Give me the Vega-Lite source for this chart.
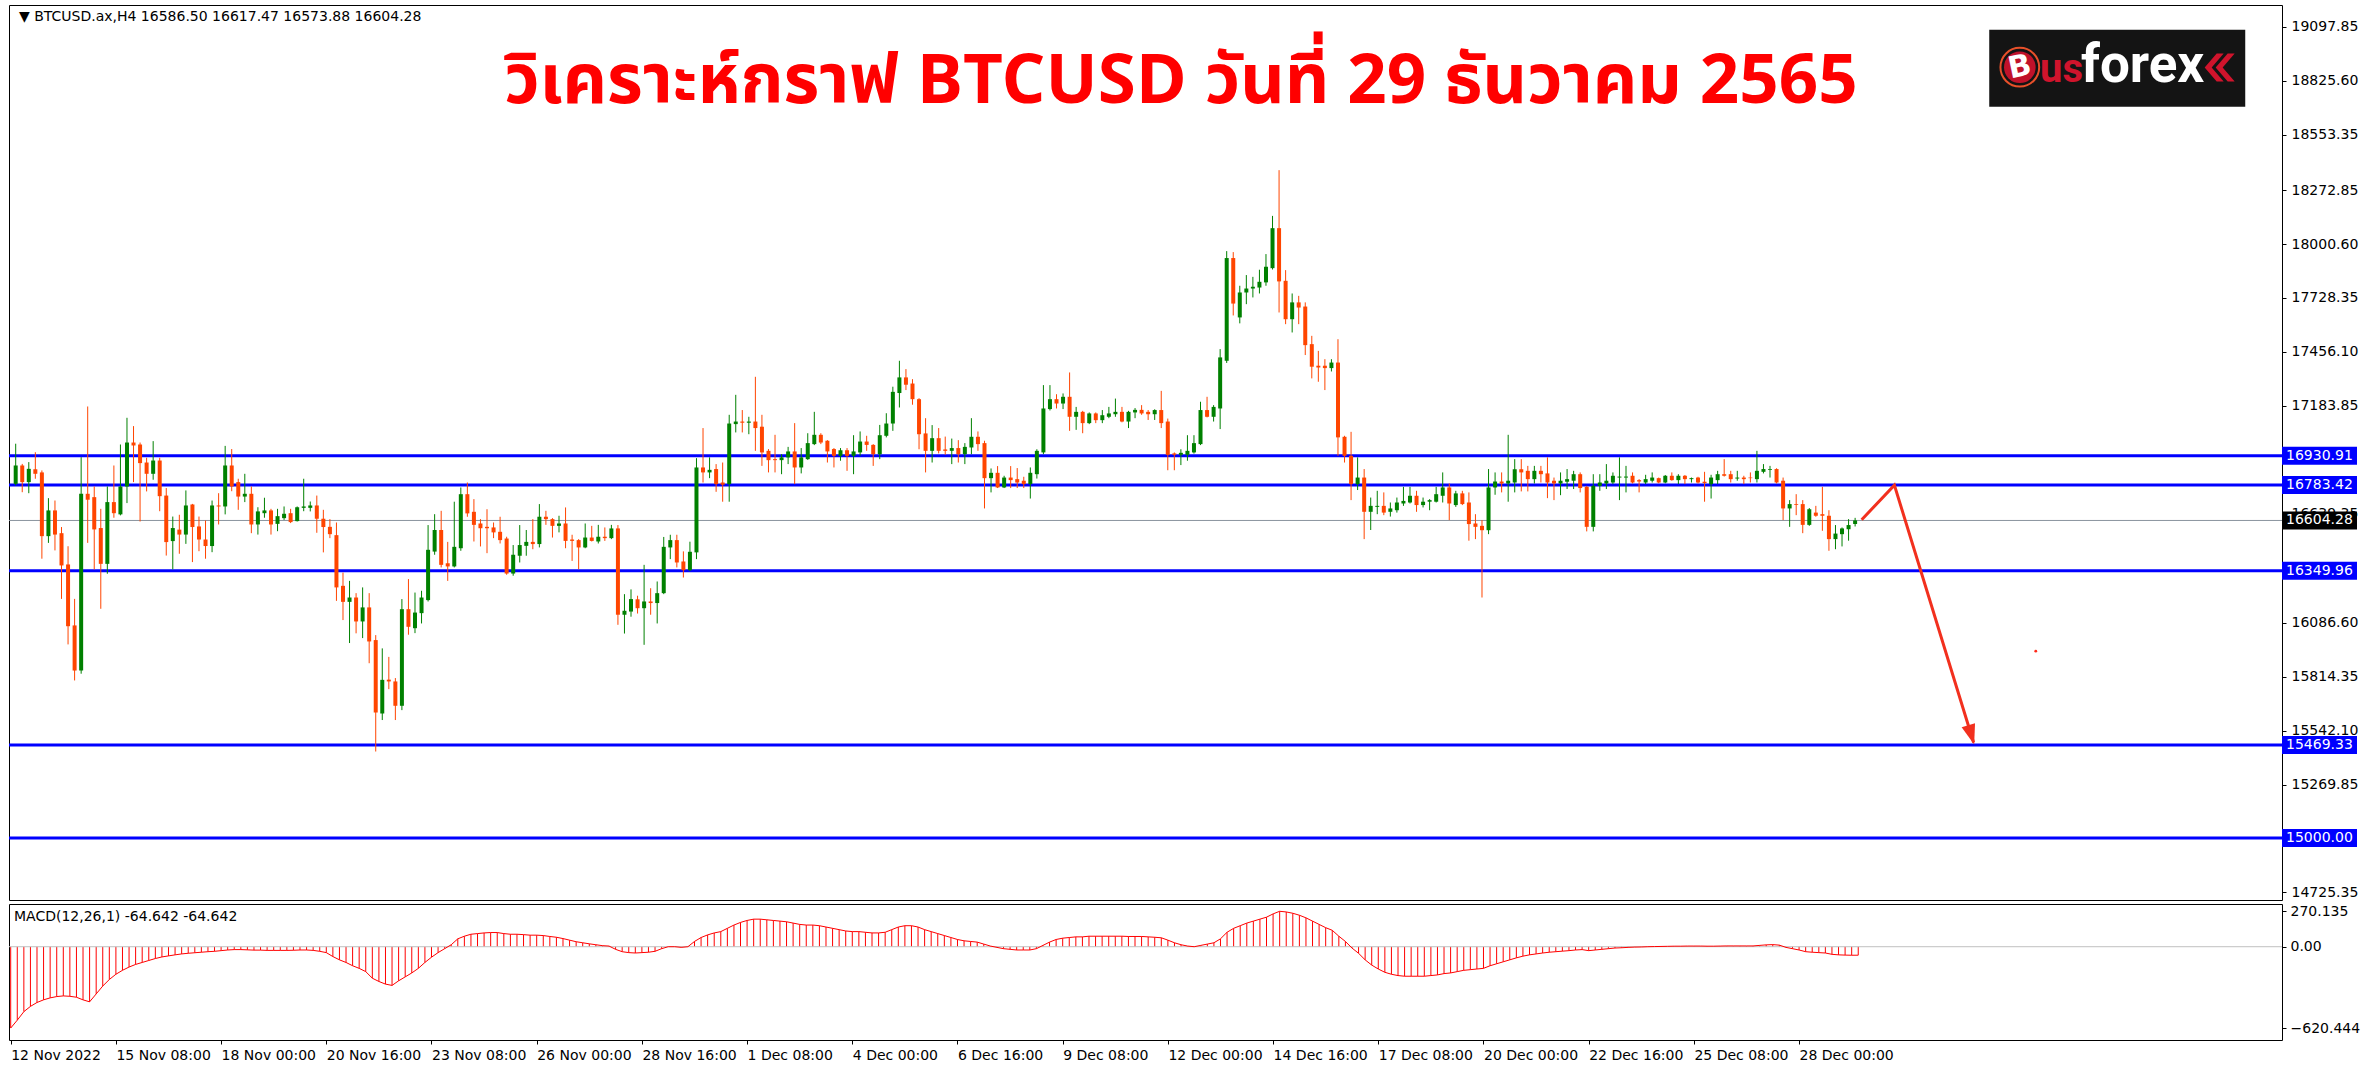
{
  "$schema": "https://vega.github.io/schema/vega-lite/v6.json",
  "background": "white",
  "padding": {"left": 7, "top": 4, "right": 5, "bottom": 5},
  "spacing": 4,
  "bounds": "flush",
  "config": {
    "view": {"stroke": "#000000", "strokeWidth": 1},
    "axis": {"labelFont": "DejaVu Sans", "labelFontSize": 14, "labelColor": "#000000", "tickColor": "#000000", "tickSize": 4, "domain": false, "grid": false},
    "text": {"font": "DejaVu Sans"}
  },
  "datasets": {
    "candles": [
{"i":0,"o":16789,"h":16992,"l":16781,"c":16882,"m":-620},
{"i":1,"o":16882,"h":16890,"l":16747,"c":16798,"m":-560},
{"i":2,"o":16798,"h":16899,"l":16742,"c":16865,"m":-495},
{"i":3,"o":16863,"h":16949,"l":16815,"c":16840,"m":-455},
{"i":4,"o":16847,"h":16857,"l":16411,"c":16525,"m":-425},
{"i":5,"o":16525,"h":16717,"l":16491,"c":16655,"m":-405},
{"i":6,"o":16655,"h":16705,"l":16453,"c":16533,"m":-390},
{"i":7,"o":16540,"h":16571,"l":16208,"c":16377,"m":-380},
{"i":8,"o":16382,"h":16474,"l":15978,"c":16070,"m":-375},
{"i":9,"o":16074,"h":16208,"l":15796,"c":15846,"m":-378},
{"i":10,"o":15846,"h":16924,"l":15830,"c":16739,"m":-385},
{"i":11,"o":16739,"h":17180,"l":16491,"c":16709,"m":-405},
{"i":12,"o":16722,"h":16776,"l":16357,"c":16559,"m":-420},
{"i":13,"o":16566,"h":16663,"l":16158,"c":16385,"m":-360},
{"i":14,"o":16385,"h":16776,"l":16335,"c":16697,"m":-300},
{"i":15,"o":16697,"h":16882,"l":16618,"c":16641,"m":-250},
{"i":16,"o":16635,"h":16988,"l":16630,"c":16776,"m":-210},
{"i":17,"o":16776,"h":17123,"l":16692,"c":16998,"m":-180},
{"i":18,"o":16998,"h":17081,"l":16798,"c":16983,"m":-155},
{"i":19,"o":16988,"h":16998,"l":16599,"c":16894,"m":-135},
{"i":20,"o":16897,"h":16921,"l":16751,"c":16840,"m":-120},
{"i":21,"o":16840,"h":17005,"l":16810,"c":16907,"m":-105},
{"i":22,"o":16907,"h":16921,"l":16651,"c":16727,"m":-90},
{"i":23,"o":16730,"h":16768,"l":16427,"c":16495,"m":-78},
{"i":24,"o":16500,"h":16624,"l":16357,"c":16566,"m":-70},
{"i":25,"o":16558,"h":16633,"l":16436,"c":16533,"m":-62},
{"i":26,"o":16533,"h":16756,"l":16486,"c":16680,"m":-55},
{"i":27,"o":16685,"h":16688,"l":16394,"c":16571,"m":-50},
{"i":28,"o":16574,"h":16624,"l":16449,"c":16508,"m":-46},
{"i":29,"o":16508,"h":16604,"l":16411,"c":16475,"m":-42},
{"i":30,"o":16475,"h":16705,"l":16444,"c":16680,"m":-38},
{"i":31,"o":16680,"h":16742,"l":16584,"c":16675,"m":-35},
{"i":32,"o":16675,"h":16981,"l":16635,"c":16882,"m":-30},
{"i":33,"o":16882,"h":16965,"l":16752,"c":16776,"m":-25},
{"i":34,"o":16798,"h":16815,"l":16658,"c":16725,"m":-22},
{"i":35,"o":16725,"h":16840,"l":16697,"c":16739,"m":-22},
{"i":36,"o":16739,"h":16776,"l":16540,"c":16584,"m":-24},
{"i":37,"o":16584,"h":16671,"l":16533,"c":16650,"m":-26},
{"i":38,"o":16641,"h":16719,"l":16618,"c":16655,"m":-26},
{"i":39,"o":16655,"h":16663,"l":16533,"c":16584,"m":-28},
{"i":40,"o":16587,"h":16663,"l":16550,"c":16626,"m":-28},
{"i":41,"o":16616,"h":16675,"l":16607,"c":16638,"m":-28},
{"i":42,"o":16641,"h":16663,"l":16591,"c":16596,"m":-28},
{"i":43,"o":16601,"h":16675,"l":16599,"c":16671,"m":-27},
{"i":44,"o":16668,"h":16815,"l":16651,"c":16675,"m":-25},
{"i":45,"o":16668,"h":16700,"l":16650,"c":16680,"m":-25},
{"i":46,"o":16680,"h":16730,"l":16542,"c":16613,"m":-28},
{"i":47,"o":16613,"h":16658,"l":16443,"c":16571,"m":-35},
{"i":48,"o":16572,"h":16611,"l":16515,"c":16535,"m":-45},
{"i":49,"o":16530,"h":16594,"l":16198,"c":16266,"m":-75},
{"i":50,"o":16274,"h":16341,"l":16101,"c":16193,"m":-100},
{"i":51,"o":16193,"h":16299,"l":15985,"c":16215,"m":-120},
{"i":52,"o":16215,"h":16237,"l":16034,"c":16094,"m":-145},
{"i":53,"o":16094,"h":16266,"l":16010,"c":16165,"m":-165},
{"i":54,"o":16165,"h":16237,"l":15883,"c":15993,"m":-190},
{"i":55,"o":16000,"h":16025,"l":15437,"c":15634,"m":-240},
{"i":56,"o":15629,"h":15958,"l":15596,"c":15799,"m":-265},
{"i":57,"o":15800,"h":15915,"l":15752,"c":15791,"m":-285},
{"i":58,"o":15791,"h":15808,"l":15596,"c":15668,"m":-295},
{"i":59,"o":15668,"h":16207,"l":15646,"c":16156,"m":-260},
{"i":60,"o":16156,"h":16308,"l":16027,"c":16067,"m":-230},
{"i":61,"o":16060,"h":16240,"l":16035,"c":16139,"m":-200},
{"i":62,"o":16136,"h":16249,"l":16084,"c":16215,"m":-165},
{"i":63,"o":16202,"h":16581,"l":16195,"c":16456,"m":-120},
{"i":64,"o":16447,"h":16636,"l":16431,"c":16556,"m":-80},
{"i":65,"o":16556,"h":16653,"l":16367,"c":16380,"m":-45},
{"i":66,"o":16388,"h":16496,"l":16299,"c":16372,"m":-15},
{"i":67,"o":16372,"h":16699,"l":16367,"c":16471,"m":15},
{"i":68,"o":16464,"h":16771,"l":16451,"c":16737,"m":60},
{"i":69,"o":16737,"h":16796,"l":16623,"c":16640,"m":80},
{"i":70,"o":16648,"h":16712,"l":16498,"c":16582,"m":95},
{"i":71,"o":16589,"h":16611,"l":16473,"c":16565,"m":100},
{"i":72,"o":16572,"h":16661,"l":16439,"c":16565,"m":105},
{"i":73,"o":16569,"h":16594,"l":16515,"c":16544,"m":108},
{"i":74,"o":16547,"h":16623,"l":16488,"c":16505,"m":108},
{"i":75,"o":16513,"h":16522,"l":16330,"c":16336,"m":100},
{"i":76,"o":16336,"h":16480,"l":16325,"c":16431,"m":95},
{"i":77,"o":16426,"h":16581,"l":16392,"c":16480,"m":95},
{"i":78,"o":16476,"h":16556,"l":16426,"c":16496,"m":92},
{"i":79,"o":16496,"h":16611,"l":16459,"c":16485,"m":88},
{"i":80,"o":16485,"h":16687,"l":16468,"c":16623,"m":88},
{"i":81,"o":16623,"h":16653,"l":16582,"c":16611,"m":85},
{"i":82,"o":16611,"h":16616,"l":16518,"c":16577,"m":78},
{"i":83,"o":16577,"h":16628,"l":16544,"c":16589,"m":72},
{"i":84,"o":16589,"h":16670,"l":16464,"c":16501,"m":62},
{"i":85,"o":16508,"h":16532,"l":16400,"c":16501,"m":50},
{"i":86,"o":16505,"h":16510,"l":16358,"c":16468,"m":38},
{"i":87,"o":16468,"h":16589,"l":16464,"c":16518,"m":30},
{"i":88,"o":16518,"h":16577,"l":16498,"c":16501,"m":22},
{"i":89,"o":16498,"h":16582,"l":16488,"c":16522,"m":15},
{"i":90,"o":16522,"h":16569,"l":16501,"c":16515,"m":8},
{"i":91,"o":16515,"h":16582,"l":16510,"c":16564,"m":5},
{"i":92,"o":16564,"h":16581,"l":16077,"c":16128,"m":-20},
{"i":93,"o":16128,"h":16232,"l":16033,"c":16148,"m":-38},
{"i":94,"o":16144,"h":16256,"l":16118,"c":16207,"m":-45},
{"i":95,"o":16206,"h":16224,"l":16134,"c":16161,"m":-48},
{"i":96,"o":16161,"h":16380,"l":15976,"c":16195,"m":-45},
{"i":97,"o":16195,"h":16262,"l":16128,"c":16187,"m":-42},
{"i":98,"o":16187,"h":16296,"l":16084,"c":16237,"m":-35},
{"i":99,"o":16237,"h":16521,"l":16232,"c":16471,"m":-15},
{"i":100,"o":16468,"h":16532,"l":16409,"c":16505,"m":0},
{"i":101,"o":16505,"h":16532,"l":16367,"c":16392,"m":0},
{"i":102,"o":16397,"h":16448,"l":16316,"c":16353,"m":-5},
{"i":103,"o":16353,"h":16497,"l":16348,"c":16446,"m":0},
{"i":104,"o":16443,"h":16919,"l":16409,"c":16872,"m":40},
{"i":105,"o":16872,"h":17071,"l":16796,"c":16847,"m":70},
{"i":106,"o":16847,"h":16923,"l":16818,"c":16860,"m":90},
{"i":107,"o":16864,"h":16889,"l":16749,"c":16788,"m":105},
{"i":108,"o":16796,"h":16897,"l":16699,"c":16785,"m":115},
{"i":109,"o":16788,"h":17138,"l":16699,"c":17094,"m":140},
{"i":110,"o":17091,"h":17239,"l":17049,"c":17104,"m":165},
{"i":111,"o":17104,"h":17162,"l":17049,"c":17098,"m":185},
{"i":112,"o":17098,"h":17128,"l":17040,"c":17104,"m":200},
{"i":113,"o":17104,"h":17330,"l":16956,"c":17071,"m":210},
{"i":114,"o":17078,"h":17138,"l":16880,"c":16948,"m":210},
{"i":115,"o":16956,"h":16965,"l":16847,"c":16909,"m":205},
{"i":116,"o":16914,"h":17037,"l":16847,"c":16909,"m":200},
{"i":117,"o":16909,"h":16939,"l":16838,"c":16923,"m":195},
{"i":118,"o":16923,"h":16976,"l":16889,"c":16953,"m":190},
{"i":119,"o":16953,"h":17096,"l":16788,"c":16872,"m":180},
{"i":120,"o":16872,"h":16970,"l":16842,"c":16923,"m":170},
{"i":121,"o":16914,"h":17045,"l":16910,"c":16995,"m":165},
{"i":122,"o":16990,"h":17153,"l":16985,"c":17037,"m":165},
{"i":123,"o":17037,"h":17045,"l":16990,"c":16998,"m":160},
{"i":124,"o":17007,"h":17010,"l":16897,"c":16953,"m":150},
{"i":125,"o":16965,"h":16970,"l":16872,"c":16931,"m":140},
{"i":126,"o":16931,"h":16970,"l":16906,"c":16959,"m":130},
{"i":127,"o":16959,"h":16970,"l":16855,"c":16931,"m":120},
{"i":128,"o":16931,"h":17035,"l":16838,"c":16953,"m":115},
{"i":129,"o":16948,"h":17054,"l":16931,"c":17003,"m":115},
{"i":130,"o":17003,"h":17032,"l":16956,"c":16986,"m":110},
{"i":131,"o":16986,"h":16990,"l":16880,"c":16939,"m":105},
{"i":132,"o":16939,"h":17087,"l":16914,"c":17035,"m":105},
{"i":133,"o":17032,"h":17146,"l":17024,"c":17094,"m":110},
{"i":134,"o":17094,"h":17280,"l":17057,"c":17254,"m":130},
{"i":135,"o":17248,"h":17411,"l":17175,"c":17327,"m":150},
{"i":136,"o":17327,"h":17369,"l":17263,"c":17290,"m":160},
{"i":137,"o":17296,"h":17318,"l":17189,"c":17217,"m":160},
{"i":138,"o":17217,"h":17222,"l":16964,"c":17040,"m":150},
{"i":139,"o":17044,"h":17121,"l":16847,"c":16956,"m":130},
{"i":140,"o":16956,"h":17086,"l":16897,"c":17020,"m":115},
{"i":141,"o":17020,"h":17071,"l":16943,"c":16956,"m":100},
{"i":142,"o":16963,"h":17028,"l":16936,"c":16956,"m":85},
{"i":143,"o":16956,"h":17018,"l":16889,"c":16970,"m":70},
{"i":144,"o":16970,"h":17010,"l":16897,"c":16939,"m":55},
{"i":145,"o":16939,"h":16995,"l":16889,"c":16976,"m":45},
{"i":146,"o":16973,"h":17121,"l":16939,"c":17027,"m":40},
{"i":147,"o":17027,"h":17054,"l":16956,"c":16990,"m":35},
{"i":148,"o":16995,"h":17007,"l":16665,"c":16818,"m":20},
{"i":149,"o":16818,"h":16867,"l":16746,"c":16845,"m":5},
{"i":150,"o":16845,"h":16879,"l":16768,"c":16771,"m":-5},
{"i":151,"o":16771,"h":16830,"l":16768,"c":16821,"m":-15},
{"i":152,"o":16821,"h":16879,"l":16768,"c":16808,"m":-20},
{"i":153,"o":16813,"h":16869,"l":16768,"c":16796,"m":-25},
{"i":154,"o":16805,"h":16825,"l":16768,"c":16788,"m":-25},
{"i":155,"o":16788,"h":16872,"l":16715,"c":16845,"m":-25},
{"i":156,"o":16838,"h":16964,"l":16816,"c":16956,"m":-15},
{"i":157,"o":16948,"h":17288,"l":16939,"c":17170,"m":10},
{"i":158,"o":17167,"h":17288,"l":17160,"c":17217,"m":35},
{"i":159,"o":17217,"h":17242,"l":17170,"c":17195,"m":55},
{"i":160,"o":17195,"h":17246,"l":17167,"c":17229,"m":65},
{"i":161,"o":17229,"h":17352,"l":17057,"c":17128,"m":70},
{"i":162,"o":17128,"h":17178,"l":17062,"c":17153,"m":75},
{"i":163,"o":17153,"h":17158,"l":17045,"c":17096,"m":75},
{"i":164,"o":17096,"h":17150,"l":17091,"c":17145,"m":80},
{"i":165,"o":17145,"h":17150,"l":17096,"c":17111,"m":80},
{"i":166,"o":17111,"h":17162,"l":17096,"c":17136,"m":80},
{"i":167,"o":17128,"h":17178,"l":17121,"c":17145,"m":80},
{"i":168,"o":17141,"h":17220,"l":17128,"c":17153,"m":80},
{"i":169,"o":17153,"h":17178,"l":17100,"c":17104,"m":80},
{"i":170,"o":17104,"h":17158,"l":17071,"c":17153,"m":78},
{"i":171,"o":17150,"h":17172,"l":17121,"c":17163,"m":78},
{"i":172,"o":17163,"h":17187,"l":17138,"c":17145,"m":78},
{"i":173,"o":17153,"h":17162,"l":17112,"c":17141,"m":75},
{"i":174,"o":17141,"h":17166,"l":17112,"c":17162,"m":72},
{"i":175,"o":17162,"h":17259,"l":17071,"c":17096,"m":68},
{"i":176,"o":17104,"h":17119,"l":16858,"c":16936,"m":50},
{"i":177,"o":16943,"h":16948,"l":16858,"c":16936,"m":30},
{"i":178,"o":16936,"h":16964,"l":16884,"c":16946,"m":15},
{"i":179,"o":16936,"h":17035,"l":16906,"c":16956,"m":5},
{"i":180,"o":16948,"h":17035,"l":16942,"c":16995,"m":0},
{"i":181,"o":16990,"h":17204,"l":16985,"c":17162,"m":10},
{"i":182,"o":17162,"h":17229,"l":17125,"c":17128,"m":20},
{"i":183,"o":17128,"h":17187,"l":17104,"c":17178,"m":30},
{"i":184,"o":17170,"h":17470,"l":17066,"c":17428,"m":60},
{"i":185,"o":17411,"h":17965,"l":17400,"c":17930,"m":110},
{"i":186,"o":17930,"h":17960,"l":17640,"c":17700,"m":140},
{"i":187,"o":17630,"h":17790,"l":17600,"c":17756,"m":160},
{"i":188,"o":17756,"h":17844,"l":17697,"c":17776,"m":180},
{"i":189,"o":17776,"h":17835,"l":17731,"c":17785,"m":195},
{"i":190,"o":17781,"h":17871,"l":17751,"c":17810,"m":210},
{"i":191,"o":17807,"h":17950,"l":17790,"c":17886,"m":225},
{"i":192,"o":17879,"h":18143,"l":17872,"c":18081,"m":250},
{"i":193,"o":18081,"h":18374,"l":17655,"c":17812,"m":270},
{"i":194,"o":17815,"h":17869,"l":17596,"c":17621,"m":265},
{"i":195,"o":17621,"h":17751,"l":17554,"c":17706,"m":255},
{"i":196,"o":17706,"h":17739,"l":17596,"c":17680,"m":240},
{"i":197,"o":17685,"h":17706,"l":17440,"c":17490,"m":220},
{"i":198,"o":17495,"h":17537,"l":17322,"c":17381,"m":195},
{"i":199,"o":17386,"h":17461,"l":17305,"c":17377,"m":170},
{"i":200,"o":17386,"h":17419,"l":17263,"c":17374,"m":145},
{"i":201,"o":17374,"h":17419,"l":17357,"c":17402,"m":125},
{"i":202,"o":17402,"h":17520,"l":16931,"c":17024,"m":80},
{"i":203,"o":17027,"h":17032,"l":16897,"c":16931,"m":40},
{"i":204,"o":16931,"h":17052,"l":16707,"c":16788,"m":-10},
{"i":205,"o":16788,"h":16923,"l":16758,"c":16821,"m":-50},
{"i":206,"o":16821,"h":16864,"l":16510,"c":16648,"m":-100},
{"i":207,"o":16648,"h":16720,"l":16556,"c":16678,"m":-140},
{"i":208,"o":16673,"h":16754,"l":16636,"c":16678,"m":-170},
{"i":209,"o":16678,"h":16746,"l":16631,"c":16644,"m":-195},
{"i":210,"o":16648,"h":16695,"l":16624,"c":16665,"m":-210},
{"i":211,"o":16656,"h":16720,"l":16644,"c":16695,"m":-220},
{"i":212,"o":16690,"h":16774,"l":16678,"c":16703,"m":-225},
{"i":213,"o":16695,"h":16774,"l":16690,"c":16729,"m":-225},
{"i":214,"o":16729,"h":16754,"l":16648,"c":16682,"m":-225},
{"i":215,"o":16682,"h":16720,"l":16670,"c":16699,"m":-225},
{"i":216,"o":16699,"h":16712,"l":16656,"c":16707,"m":-220},
{"i":217,"o":16699,"h":16774,"l":16695,"c":16737,"m":-215},
{"i":218,"o":16729,"h":16847,"l":16695,"c":16771,"m":-205},
{"i":219,"o":16771,"h":16791,"l":16606,"c":16690,"m":-200},
{"i":220,"o":16682,"h":16754,"l":16673,"c":16741,"m":-190},
{"i":221,"o":16741,"h":16754,"l":16682,"c":16687,"m":-180},
{"i":222,"o":16695,"h":16746,"l":16502,"c":16586,"m":-175},
{"i":223,"o":16589,"h":16636,"l":16510,"c":16572,"m":-170},
{"i":224,"o":16577,"h":16606,"l":16215,"c":16555,"m":-165},
{"i":225,"o":16555,"h":16864,"l":16535,"c":16771,"m":-145},
{"i":226,"o":16771,"h":16847,"l":16734,"c":16801,"m":-130},
{"i":227,"o":16801,"h":16847,"l":16746,"c":16791,"m":-115},
{"i":228,"o":16791,"h":17037,"l":16699,"c":16805,"m":-100},
{"i":229,"o":16796,"h":16914,"l":16746,"c":16863,"m":-85},
{"i":230,"o":16863,"h":16914,"l":16751,"c":16847,"m":-72},
{"i":231,"o":16855,"h":16880,"l":16751,"c":16813,"m":-62},
{"i":232,"o":16813,"h":16880,"l":16791,"c":16855,"m":-55},
{"i":233,"o":16855,"h":16880,"l":16796,"c":16838,"m":-48},
{"i":234,"o":16842,"h":16923,"l":16717,"c":16796,"m":-42},
{"i":235,"o":16805,"h":16821,"l":16707,"c":16791,"m":-38},
{"i":236,"o":16791,"h":16847,"l":16732,"c":16805,"m":-34},
{"i":237,"o":16800,"h":16864,"l":16763,"c":16813,"m":-30},
{"i":238,"o":16805,"h":16855,"l":16763,"c":16838,"m":-25},
{"i":239,"o":16838,"h":16847,"l":16746,"c":16768,"m":-22},
{"i":240,"o":16774,"h":16779,"l":16549,"c":16572,"m":-30},
{"i":241,"o":16572,"h":16838,"l":16549,"c":16779,"m":-25},
{"i":242,"o":16779,"h":16838,"l":16754,"c":16796,"m":-20},
{"i":243,"o":16791,"h":16889,"l":16763,"c":16805,"m":-15},
{"i":244,"o":16796,"h":16847,"l":16788,"c":16830,"m":-10},
{"i":245,"o":16821,"h":16923,"l":16707,"c":16826,"m":-8},
{"i":246,"o":16821,"h":16880,"l":16746,"c":16826,"m":-5},
{"i":247,"o":16830,"h":16847,"l":16791,"c":16796,"m":-3},
{"i":248,"o":16808,"h":16813,"l":16746,"c":16801,"m":-2},
{"i":249,"o":16796,"h":16835,"l":16788,"c":16813,"m":0},
{"i":250,"o":16805,"h":16847,"l":16796,"c":16821,"m":1},
{"i":251,"o":16818,"h":16821,"l":16792,"c":16796,"m":2},
{"i":252,"o":16796,"h":16834,"l":16792,"c":16830,"m":3},
{"i":253,"o":16830,"h":16847,"l":16805,"c":16808,"m":4},
{"i":254,"o":16808,"h":16838,"l":16788,"c":16830,"m":4},
{"i":255,"o":16830,"h":16834,"l":16788,"c":16813,"m":5},
{"i":256,"o":16813,"h":16821,"l":16796,"c":16818,"m":5},
{"i":257,"o":16821,"h":16825,"l":16791,"c":16796,"m":5},
{"i":258,"o":16800,"h":16850,"l":16699,"c":16793,"m":4},
{"i":259,"o":16788,"h":16835,"l":16715,"c":16821,"m":4},
{"i":260,"o":16808,"h":16855,"l":16788,"c":16838,"m":5},
{"i":261,"o":16838,"h":16914,"l":16826,"c":16830,"m":6},
{"i":262,"o":16838,"h":16855,"l":16796,"c":16813,"m":6},
{"i":263,"o":16816,"h":16855,"l":16805,"c":16821,"m":6},
{"i":264,"o":16821,"h":16830,"l":16788,"c":16813,"m":6},
{"i":265,"o":16821,"h":16847,"l":16796,"c":16818,"m":6},
{"i":266,"o":16813,"h":16956,"l":16796,"c":16855,"m":10},
{"i":267,"o":16850,"h":16889,"l":16842,"c":16864,"m":14},
{"i":268,"o":16860,"h":16880,"l":16821,"c":16864,"m":16},
{"i":269,"o":16864,"h":16868,"l":16791,"c":16796,"m":12},
{"i":270,"o":16805,"h":16821,"l":16606,"c":16665,"m":-5},
{"i":271,"o":16665,"h":16707,"l":16572,"c":16687,"m":-15},
{"i":272,"o":16687,"h":16737,"l":16631,"c":16683,"m":-25},
{"i":273,"o":16687,"h":16707,"l":16540,"c":16582,"m":-38},
{"i":274,"o":16582,"h":16667,"l":16577,"c":16661,"m":-42},
{"i":275,"o":16644,"h":16678,"l":16623,"c":16628,"m":-45},
{"i":276,"o":16636,"h":16774,"l":16552,"c":16628,"m":-48},
{"i":277,"o":16628,"h":16656,"l":16451,"c":16510,"m":-58},
{"i":278,"o":16510,"h":16581,"l":16459,"c":16538,"m":-62},
{"i":279,"o":16535,"h":16569,"l":16473,"c":16564,"m":-64},
{"i":280,"o":16560,"h":16611,"l":16502,"c":16581,"m":-65},
{"i":281,"o":16586.5,"h":16617.47,"l":16573.88,"c":16604.28,"m":-64.642}
    ],
    "levels": [
      {"p": 16930.91, "kind": "level"},
      {"p": 16783.42, "kind": "level"},
      {"p": 16349.96, "kind": "level"},
      {"p": 15469.33, "kind": "level"},
      {"p": 15000.00, "kind": "level"},
      {"p": 16604.28, "kind": "price"}
    ],
    "arrow": [
      {"k": 0, "i": 282.0, "p": 16607.6},
      {"k": 1, "i": 287.0, "p": 16782.9},
      {"k": 2, "i": 299.1, "p": 15482.5}
    ]
  },
  "vconcat": [
    {
      "width": 2273,
      "height": 895,
      "layer": [
        {
          "data": {"name": "levels"},
          "transform": [{"filter": "datum.kind == 'level'"}],
          "mark": {"type": "rule", "color": "#0000ff", "strokeWidth": 3},
          "encoding": {
            "y": {"field": "p", "type": "quantitative", "title": null,
              "scale": {"domain": [14686.8, 19208.4], "nice": false, "zero": false},
              "axis": {"orient": "right", "title": null, "format": ".2f", "labelPadding": 5,
                "values": [19097.85, 18825.60, 18553.35, 18272.85, 18000.60, 17728.35, 17456.10, 17183.85, 16639.35, 16086.60, 15814.35, 15542.10, 15269.85, 14725.35]}}
          }
        },
        {
          "data": {"name": "levels"},
          "transform": [{"filter": "datum.kind == 'price'"}],
          "mark": {"type": "rule", "color": "#8a949e", "strokeWidth": 1},
          "encoding": {"y": {"field": "p", "type": "quantitative", "title": null}}
        },
        {
          "data": {"name": "candles"},
          "mark": {"type": "rule", "strokeWidth": 1},
          "encoding": {
            "x": {"field": "i", "type": "quantitative", "title": null, "axis": null,
              "scale": {"domain": [-0.2586, 345.45], "nice": false, "zero": false}},
            "y": {"field": "l", "type": "quantitative", "title": null},
            "y2": {"field": "h"},
            "color": {"condition": {"test": "datum.c >= datum.o", "value": "#008000"}, "value": "#ff4500"}
          }
        },
        {
          "data": {"name": "candles"},
          "mark": {"type": "bar", "width": 4, "minBandSize": 1},
          "encoding": {
            "x": {"field": "i", "type": "quantitative", "title": null},
            "y": {"field": "o", "type": "quantitative", "title": null},
            "y2": {"field": "c"},
            "color": {"condition": {"test": "datum.c >= datum.o", "value": "#008000"}, "value": "#ff4500"}
          }
        },
        {
          "data": {"name": "arrow"},
          "mark": {"type": "line", "color": "#f2301e", "strokeWidth": 3},
          "encoding": {
            "x": {"field": "i", "type": "quantitative", "title": null},
            "y": {"field": "p", "type": "quantitative", "title": null},
            "order": {"field": "k"}
          }
        },
        {
          "data": {"name": "arrow"},
          "transform": [{"filter": "datum.k == 2"}],
          "mark": {"type": "point", "shape": "M0,2L-7,-18L7,-18Z", "size": 4, "angle": -17, "filled": true, "opacity": 1, "color": "#f2301e"},
          "encoding": {
            "x": {"field": "i", "type": "quantitative", "title": null},
            "y": {"field": "p", "type": "quantitative", "title": null}
          }
        },
        {
          "data": {"values": [{"i": 308.6, "p": 15944}]},
          "mark": {"type": "point", "shape": "circle", "size": 8, "filled": true, "opacity": 1, "color": "#ff2a1a"},
          "encoding": {
            "x": {"field": "i", "type": "quantitative", "title": null},
            "y": {"field": "p", "type": "quantitative", "title": null}
          }
        },
        {
          "data": {"values": [{"i": 178, "p": 18713, "label": "วิเคราะห์กราฟ BTCUSD วันที่ 29 ธันวาคม 2565"}]},
          "mark": {"type": "text", "font": "Noto Sans Thai, Noto Sans, DejaVu Sans, sans-serif", "fontSize": 69, "fontWeight": "bold", "color": "#ff0000", "align": "center", "baseline": "alphabetic"},
          "encoding": {
            "x": {"field": "i", "type": "quantitative", "title": null},
            "y": {"field": "p", "type": "quantitative", "title": null},
            "text": {"field": "label"}
          }
        },
        {
          "data": {"values": [{"i": 0.5, "p": 19147, "label": "▼ BTCUSD.ax,H4  16586.50 16617.47 16573.88 16604.28"}]},
          "mark": {"type": "text", "fontSize": 14, "color": "#000000", "align": "left", "baseline": "middle"},
          "encoding": {
            "x": {"field": "i", "type": "quantitative", "title": null},
            "y": {"field": "p", "type": "quantitative", "title": null},
            "text": {"field": "label"}
          }
        },
        {
          "data": {"values": [{"i": 301.49, "p": 19083.1}]},
          "mark": {"type": "point", "shape": "M0,0H256V77H0Z", "size": 4, "filled": true, "opacity": 1, "color": "#141414"},
          "encoding": {
            "x": {"field": "i", "type": "quantitative", "title": null},
            "y": {"field": "p", "type": "quantitative", "title": null}
          }
        },
        {
          "data": {"values": [{"i": 306.16, "p": 18894}]},
          "mark": {"type": "point", "shape": "circle", "size": 1500, "filled": false, "opacity": 1, "color": "#e8502a", "strokeWidth": 2},
          "encoding": {
            "x": {"field": "i", "type": "quantitative", "title": null},
            "y": {"field": "p", "type": "quantitative", "title": null}
          }
        },
        {
          "data": {"values": [{"i": 306.16, "p": 18894}]},
          "mark": {"type": "point", "shape": "circle", "size": 1000, "filled": true, "opacity": 1, "color": "#c0122a"},
          "encoding": {
            "x": {"field": "i", "type": "quantitative", "title": null},
            "y": {"field": "p", "type": "quantitative", "title": null}
          }
        },
        {
          "data": {"values": [{"i": 306.16, "p": 18894, "label": "B"}]},
          "mark": {"type": "text", "font": "DejaVu Sans", "fontSize": 30, "fontWeight": "bold", "color": "#ffffff", "align": "center", "baseline": "middle", "angle": -12},
          "encoding": {
            "x": {"field": "i", "type": "quantitative", "title": null},
            "y": {"field": "p", "type": "quantitative", "title": null},
            "text": {"field": "label"}
          }
        },
        {
          "data": {"values": [{"i": 309.26, "p": 18818.3, "label": "us"}]},
          "mark": {"type": "text", "font": "Roboto", "fontSize": 40, "fontWeight": "bold", "color": "#d0142c", "align": "left", "baseline": "alphabetic"},
          "encoding": {
            "x": {"field": "i", "type": "quantitative", "title": null},
            "y": {"field": "p", "type": "quantitative", "title": null},
            "text": {"field": "label"}
          }
        },
        {
          "data": {"values": [{"i": 315.5, "p": 18818.3, "label": "forex"}]},
          "mark": {"type": "text", "font": "Roboto", "fontSize": 53, "fontWeight": "bold", "color": "#ffffff", "align": "left", "baseline": "alphabetic"},
          "encoding": {
            "x": {"field": "i", "type": "quantitative", "title": null},
            "y": {"field": "p", "type": "quantitative", "title": null},
            "text": {"field": "label"}
          }
        },
        {
          "data": {"values": [{"i": 334.4, "p": 18892.6}]},
          "mark": {"type": "point", "shape": "M12,-14L0,0L12,14H19L7,0L19,-14Z M23,-14L11,0L23,14H30L18,0L30,-14Z", "size": 4, "filled": true, "opacity": 1, "color": "#d0142c"},
          "encoding": {
            "x": {"field": "i", "type": "quantitative", "title": null},
            "y": {"field": "p", "type": "quantitative", "title": null}
          }
        },
        {
          "data": {"name": "levels"},
          "mark": {"type": "point", "shape": "M5,-9H80V9H5Z", "size": 4, "filled": true, "opacity": 1},
          "encoding": {
            "x": {"datum": 345.45, "type": "quantitative"},
            "y": {"field": "p", "type": "quantitative", "title": null},
            "color": {"field": "kind", "type": "nominal", "legend": null, "scale": {"domain": ["level", "price"], "range": ["#0000ff", "#000000"]}}
          }
        },
        {
          "data": {"name": "levels"},
          "mark": {"type": "text", "fontSize": 14, "color": "#ffffff", "align": "left", "baseline": "middle", "dx": 9},
          "encoding": {
            "x": {"datum": 345.45, "type": "quantitative"},
            "y": {"field": "p", "type": "quantitative", "title": null},
            "text": {"field": "p", "type": "quantitative", "format": ".2f"}
          }
        }
      ]
    },
    {
      "width": 2273,
      "height": 136,
      "layer": [
        {
          "data": {"name": "candles"},
          "mark": {"type": "rule", "color": "#ff0000", "strokeWidth": 1},
          "encoding": {
            "x": {"field": "i", "type": "quantitative", "title": null,
              "scale": {"domain": [-0.2586, 345.45], "nice": false, "zero": false},
              "axis": {"orient": "bottom", "title": null, "labelAlign": "left", "labelPadding": 4, "labelFlush": false, "labelOverlap": false, "labelBound": false,
                "values": [0, 16, 32, 48, 64, 80, 96, 112, 128, 144, 160, 176, 192, 208, 224, 240, 256, 272],
                "labelExpr": "['12 Nov 2022','15 Nov 08:00','18 Nov 00:00','20 Nov 16:00','23 Nov 08:00','26 Nov 00:00','28 Nov 16:00','1 Dec 08:00','4 Dec 00:00','6 Dec 16:00','9 Dec 08:00','12 Dec 00:00','14 Dec 16:00','17 Dec 08:00','20 Dec 00:00','22 Dec 16:00','25 Dec 08:00','28 Dec 00:00'][round(datum.value / 16)]"}},
            "y": {"field": "m", "type": "quantitative", "title": null,
              "scale": {"domain": [-711, 325.5], "nice": false, "zero": false},
              "axis": {"orient": "right", "title": null, "labelPadding": 4, "values": [270.135, 0, -620.444],
                "labelExpr": "datum.value == 0 ? '0.00' : format(datum.value, '.3f')"}},
            "y2": {"datum": 0}
          }
        },
        {
          "data": {"values": [{"z": 0}]},
          "mark": {"type": "rule", "color": "#c0c0c0", "strokeWidth": 1},
          "encoding": {"y": {"field": "z", "type": "quantitative", "title": null}}
        },
        {
          "data": {"name": "candles"},
          "mark": {"type": "line", "color": "#ff0000", "strokeWidth": 1},
          "encoding": {
            "x": {"field": "i", "type": "quantitative", "title": null},
            "y": {"field": "m", "type": "quantitative", "title": null}
          }
        },
        {
          "data": {"values": [{"i": 0.5, "m": 226, "label": "MACD(12,26,1) -64.642 -64.642"}]},
          "mark": {"type": "text", "fontSize": 14, "color": "#000000", "align": "left", "baseline": "middle"},
          "encoding": {
            "x": {"field": "i", "type": "quantitative", "title": null},
            "y": {"field": "m", "type": "quantitative", "title": null},
            "text": {"field": "label"}
          }
        }
      ]
    }
  ]
}
